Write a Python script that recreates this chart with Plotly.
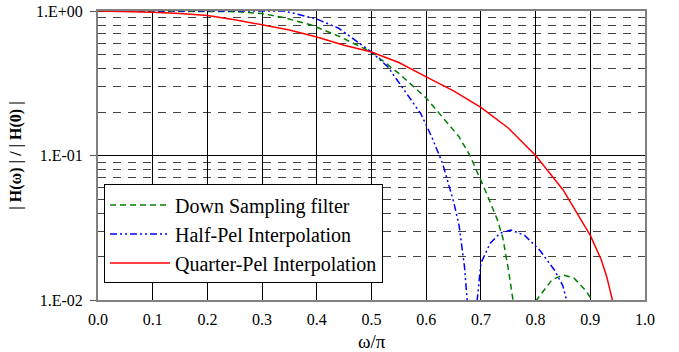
import plotly.graph_objects as go

# ---- data ----
x_down = [0, 0.1, 0.2, 0.25, 0.3, 0.34, 0.39, 0.44, 0.5, 0.55, 0.6, 0.64, 0.66, 0.68, 0.7, 0.71, 0.73, 0.74, 0.75, 0.759,
          None,
          0.80, 0.81, 0.83, 0.85, 0.87, 0.89, 0.905]
y_down = [1.0, 1.0, 1.0, 0.99, 0.96, 0.90, 0.80, 0.67, 0.52, 0.37, 0.25, 0.165, 0.135, 0.10, 0.068, 0.055, 0.036, 0.027, 0.0165, 0.0098,
          None,
          0.0098, 0.011, 0.0138, 0.0149, 0.0142, 0.0118, 0.0098]

x_half = [0, 0.1, 0.2, 0.3, 0.34, 0.36, 0.40, 0.44, 0.47, 0.5, 0.53, 0.56, 0.59, 0.61, 0.63, 0.65, 0.66, 0.67, 0.675,
          None,
          0.693, 0.70, 0.717, 0.735, 0.755, 0.78, 0.808, 0.835, 0.85, 0.857]
y_half = [1.0, 1.0, 1.0, 1.0, 1.0, 0.96, 0.88, 0.76, 0.63, 0.52, 0.41, 0.285, 0.195, 0.135, 0.088, 0.048, 0.033, 0.017, 0.0098,
          None,
          0.0098, 0.018, 0.0247, 0.029, 0.0305, 0.028, 0.022, 0.016, 0.0125, 0.0098]

x_quarter = [0, 0.05, 0.1, 0.15, 0.2, 0.25, 0.3, 0.35, 0.4, 0.45, 0.5, 0.55, 0.6, 0.65, 0.7, 0.75, 0.8, 0.85, 0.9, 0.92, 0.93, 0.941]
y_quarter = [1.0, 0.995, 0.98, 0.96, 0.93, 0.87, 0.80, 0.74, 0.66, 0.58, 0.52, 0.44, 0.35, 0.28, 0.215, 0.155, 0.10, 0.058, 0.028, 0.019, 0.0145, 0.0098]

series_names = ["Down Sampling filter", "Half-Pel Interpolation", "Quarter-Pel Interpolation"]
x_ticks = [0.0, 0.1, 0.2, 0.3, 0.4, 0.5, 0.6, 0.7, 0.8, 0.9, 1.0]
x_tick_labels = ["0.0", "0.1", "0.2", "0.3", "0.4", "0.5", "0.6", "0.7", "0.8", "0.9", "1.0"]
y_ticks = [1, 0.1, 0.01]
y_tick_labels = ["1.E+00", "1.E-01", "1.E-02"]
x_title = "ω/π"
y_title = "<b>| H(ω) | / | H(0) |</b>"

FONT = "Liberation Serif"

fig = go.Figure()
fig.add_trace(go.Scatter(x=x_down, y=y_down, mode="lines", name=series_names[0],
                         line=dict(color="#008000", width=1.5, dash="6px,4px")))
fig.add_trace(go.Scatter(x=x_half, y=y_half, mode="lines", name=series_names[1],
                         line=dict(color="#0000FF", width=1.5, dash="7px,3px,2px,3px,2px,3px")))
fig.add_trace(go.Scatter(x=x_quarter, y=y_quarter, mode="lines", name=series_names[2],
                         line=dict(color="#FF0000", width=1.5)))

fig.add_annotation(text=x_title, xref="paper", yref="paper", x=0.5, y=-0.142,
                   xanchor="center", yanchor="middle", showarrow=False,
                   font=dict(family=FONT, size=19, color="black"))

fig.update_layout(
    width=679, height=352,
    margin=dict(l=98, r=34, t=11, b=52),
    paper_bgcolor="white", plot_bgcolor="white",
    font=dict(family=FONT, color="black", size=16),
    showlegend=True,
    legend=dict(x=0.011, y=0.40, xanchor="left", yanchor="top",
                bgcolor="white", bordercolor="black", borderwidth=1,
                font=dict(family=FONT, size=20, color="black"),
                itemwidth=60, tracegroupgap=0),
    xaxis=dict(range=[0, 1], tickvals=x_ticks, ticktext=x_tick_labels,
               showgrid=True, gridcolor="black", gridwidth=1,
               showline=True, linecolor="#808080", linewidth=2, mirror=True,
               ticks="", zeroline=False, automargin=False,
               ticklabelstandoff=4,
               tickfont=dict(family=FONT, size=16)),
    yaxis=dict(type="log", range=[-2, 0], tickvals=y_ticks, ticktext=y_tick_labels,
               showgrid=True, gridcolor="black", gridwidth=1,
               minor=dict(dtick="D1", showgrid=True, gridcolor="#444444", griddash="8px,7px", gridwidth=1,
                          ticks=""),
               showline=True, linecolor="#808080", linewidth=2, mirror=True,
               ticks="outside", ticklen=6, tickcolor="#555555",
               ticklabeloverflow="allow", automargin=False, ticklabelstandoff=4,
               title=dict(text=y_title, font=dict(family=FONT, size=16), standoff=10),
               tickfont=dict(family=FONT, size=16)),
)

fig.write_html("out.html", post_script="document.body.style.margin='0';",
               config={"displayModeBar": False})
